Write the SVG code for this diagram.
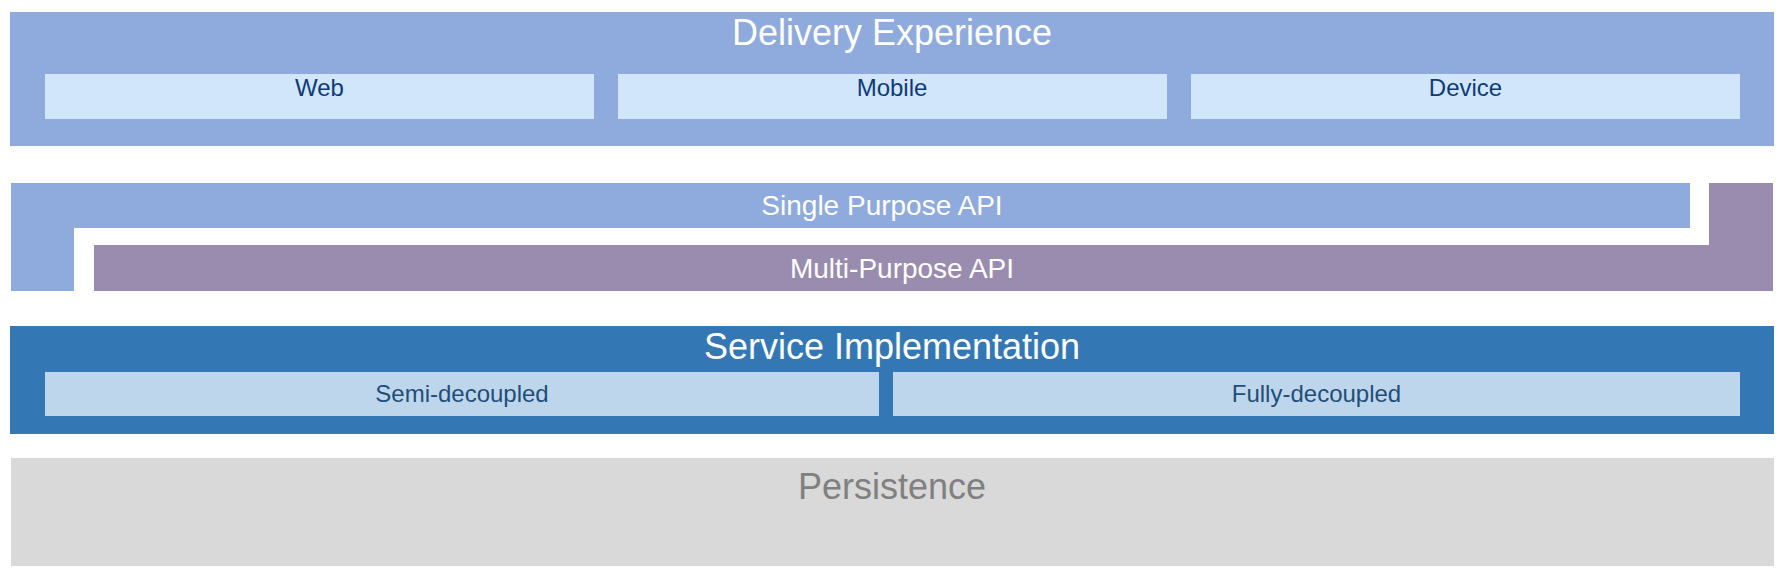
<svg xmlns="http://www.w3.org/2000/svg" width="1788" height="584" viewBox="0 0 1788 584">
<style>
text{font-family:"Liberation Sans",Arial,sans-serif;text-anchor:middle}
.title{font-size:36px;fill:#ffffff}
.api{font-size:28px;fill:#ffffff}
.sub{font-size:24px}
.lt{fill:#8FAADC}
.dx{fill:#D2E6FB}
.dxt{fill:#0F3A78}
.sv{fill:#3378B4}
.svb{fill:#BED6EC}
.svt{fill:#1F4E79}
.mp{fill:#9A8CAE}
</style>
<rect width="1788" height="584" fill="#ffffff"/>
<g id="delivery">
<rect class="lt" x="10" y="12" width="1764" height="134"/>
<text class="title" x="892" y="45">Delivery Experience</text>
</g>
<g id="web">
<rect class="dx" x="45" y="74" width="549" height="45"/>
<text class="sub dxt" x="319.5" y="96">Web</text>
</g>
<g id="mobile">
<rect class="dx" x="618" y="74" width="549" height="45"/>
<text class="sub dxt" x="892" y="96">Mobile</text>
</g>
<g id="device">
<rect class="dx" x="1191" y="74" width="549" height="45"/>
<text class="sub dxt" x="1465.5" y="96">Device</text>
</g>
<g id="single-purpose-api">
<path class="lt" d="M11,183 H1690 V228 H74 V291 H11 Z"/>
<text class="api" x="882" y="214.5">Single Purpose API</text>
</g>
<g id="multi-purpose-api">
<path class="mp" d="M1709,183 H1773 V291 H94 V245 H1709 Z"/>
<text class="api" x="902" y="277.5">Multi-Purpose API</text>
</g>
<g id="service">
<rect class="sv" x="10" y="326" width="1764" height="108"/>
<text class="title" x="892" y="359">Service Implementation</text>
</g>
<g id="semi-decoupled">
<rect class="svb" x="45" y="372" width="834" height="44"/>
<text class="sub svt" x="462" y="402">Semi-decoupled</text>
</g>
<g id="fully-decoupled">
<rect class="svb" x="893" y="372" width="847" height="44"/>
<text class="sub svt" x="1316.5" y="402">Fully-decoupled</text>
</g>
<g id="persistence">
<rect x="11" y="458" width="1763" height="108" fill="#D9D9D9"/>
<text x="892" y="499" font-size="36" fill="#808080">Persistence</text>
</g>
<g id="connectors"/>
</svg>
